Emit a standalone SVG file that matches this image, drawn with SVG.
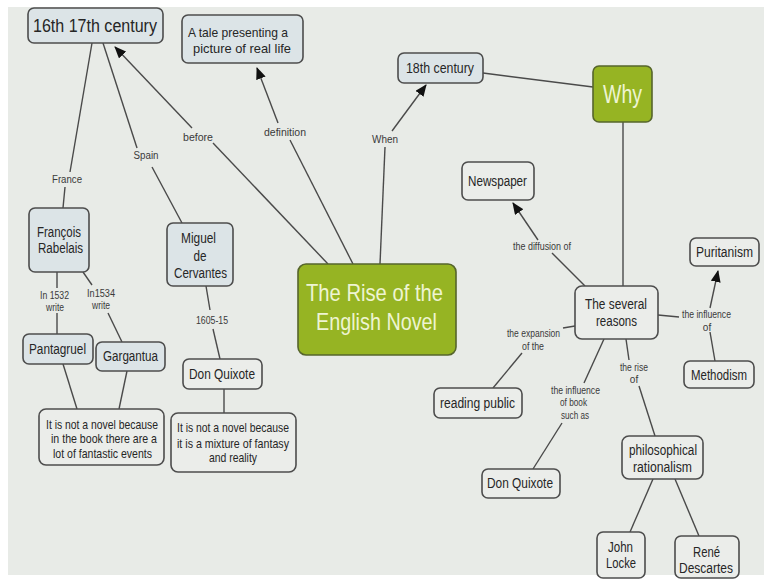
<svg xmlns="http://www.w3.org/2000/svg" width="764" height="580" viewBox="0 0 764 580">
<style>
text{font-family:"Liberation Sans",Arial,sans-serif;fill:#262626;text-anchor:middle}
.b{fill:#dce4e7;stroke:#4d4d4d;stroke-width:1.6}
.w{fill:#ebedea;stroke:#4d4d4d;stroke-width:1.6}
.g{fill:#96b423;stroke:#56652c;stroke-width:1.6}
.gt{fill:#eef4d2}
.c line{stroke:#4a4a4a;stroke-width:1.4}
.l{font-size:10px;fill:#3a3a3a}
.t{font-size:14px}
.s{font-size:13px}
</style>
<defs>
<marker id="ah" markerUnits="userSpaceOnUse" markerWidth="12" markerHeight="10" refX="11" refY="5" orient="auto">
<path d="M0,0 L12,5 L0,10 z" fill="#111"/>
</marker>
</defs>
<rect x="0" y="0" width="764" height="580" fill="#ffffff"/>
<rect x="8" y="7" width="756" height="568" fill="#e8ebe7"/>

<g id="connectors" class="c">
<line x1="92" y1="43" x2="70" y2="172"/>
<line x1="65" y1="187" x2="63" y2="208"/>
<line x1="103" y1="43" x2="137" y2="148"/>
<line x1="152" y1="167" x2="182" y2="223"/>
<line x1="328" y1="264" x2="213" y2="143"/>
<line x1="192" y1="128" x2="115" y2="47" marker-end="url(#ah)"/>
<line x1="353" y1="264" x2="290" y2="140"/>
<line x1="278" y1="123" x2="257" y2="68" marker-end="url(#ah)"/>
<line x1="380" y1="264" x2="385" y2="147"/>
<line x1="392" y1="131" x2="426" y2="85" marker-end="url(#ah)"/>
<line x1="483" y1="73" x2="593" y2="87"/>
<line x1="623" y1="122" x2="623" y2="286"/>
<line x1="585" y1="286" x2="552" y2="253"/>
<line x1="538" y1="240" x2="513" y2="203" marker-end="url(#ah)"/>
<line x1="658" y1="315" x2="679" y2="317"/>
<line x1="710" y1="308" x2="718" y2="271" marker-end="url(#ah)"/>
<line x1="710" y1="332" x2="715" y2="361"/>
<line x1="575" y1="326" x2="563" y2="328"/>
<line x1="522" y1="353" x2="493" y2="388"/>
<line x1="604" y1="339" x2="584" y2="383"/>
<line x1="562" y1="423" x2="533" y2="469"/>
<line x1="626" y1="339" x2="629" y2="360"/>
<line x1="639" y1="386" x2="655" y2="436"/>
<line x1="653" y1="479" x2="630" y2="532"/>
<line x1="675" y1="479" x2="699" y2="536"/>
<line x1="57" y1="272" x2="57" y2="288"/>
<line x1="57" y1="313" x2="57" y2="334"/>
<line x1="83" y1="272" x2="92" y2="285"/>
<line x1="108" y1="313" x2="122" y2="342"/>
<line x1="63" y1="364" x2="77" y2="409"/>
<line x1="127" y1="371" x2="119" y2="409"/>
<line x1="206" y1="286" x2="210" y2="310"/>
<line x1="213" y1="329" x2="220" y2="359"/>
<line x1="224" y1="389" x2="224" y2="413"/>
<text class="l" x="67" y="182.5" textLength="30" lengthAdjust="spacingAndGlyphs">France</text>
<text class="l" x="146" y="158.5" textLength="25" lengthAdjust="spacingAndGlyphs">Spain</text>
<text class="l" x="198" y="140.5" textLength="30" lengthAdjust="spacingAndGlyphs">before</text>
<text class="l" x="285" y="135.5" textLength="42" lengthAdjust="spacingAndGlyphs">definition</text>
<text class="l" x="385" y="142.5" textLength="26" lengthAdjust="spacingAndGlyphs">When</text>
<text class="l" x="54.5" y="298.5" textLength="29" lengthAdjust="spacingAndGlyphs">In 1532</text>
<text class="l" x="55" y="310.5" textLength="18" lengthAdjust="spacingAndGlyphs">write</text>
<text class="l" x="101" y="296.5" textLength="28" lengthAdjust="spacingAndGlyphs">In1534</text>
<text class="l" x="101" y="308.5" textLength="18" lengthAdjust="spacingAndGlyphs">write</text>
<text class="l" x="212" y="323.5" textLength="32" lengthAdjust="spacingAndGlyphs">1605-15</text>
<text class="l" x="542" y="249.5" textLength="58" lengthAdjust="spacingAndGlyphs">the diffusion of</text>
<text class="l" x="706.5" y="317.5" textLength="49" lengthAdjust="spacingAndGlyphs">the influence</text>
<text class="l" x="707" y="330.5">of</text>
<text class="l" x="533.5" y="336.5" textLength="53" lengthAdjust="spacingAndGlyphs">the expansion</text>
<text class="l" x="533" y="349.5" textLength="22" lengthAdjust="spacingAndGlyphs">of the</text>
<text class="l" x="575.5" y="393.5" textLength="49" lengthAdjust="spacingAndGlyphs">the influence</text>
<text class="l" x="573.5" y="405.5" textLength="27" lengthAdjust="spacingAndGlyphs">of book</text>
<text class="l" x="575" y="418.5" textLength="28" lengthAdjust="spacingAndGlyphs">such as</text>
<text class="l" x="634" y="370.5" textLength="28" lengthAdjust="spacingAndGlyphs">the rise</text>
<text class="l" x="634" y="382.5">of</text>
</g>

<g id="n-16th">
<rect class="b" x="28" y="8" width="135" height="35" rx="6"/>
<text x="95" y="32" font-size="18" textLength="124" lengthAdjust="spacingAndGlyphs">16th 17th century</text>
</g>
<g id="n-tale">
<rect class="b" x="182" y="15" width="121" height="48" rx="6"/>
<text class="s" x="238" y="36.5" textLength="100" lengthAdjust="spacingAndGlyphs">A tale presenting a</text>
<text class="s" x="242" y="52.5" textLength="98" lengthAdjust="spacingAndGlyphs">picture of  real life</text>
</g>
<g id="n-rabelais">
<rect class="b" x="29" y="208" width="60" height="64" rx="6"/>
<text class="t" x="59" y="237" textLength="44" lengthAdjust="spacingAndGlyphs">François</text>
<text class="t" x="60.5" y="253" textLength="45" lengthAdjust="spacingAndGlyphs">Rabelais</text>
</g>
<g id="n-cervantes">
<rect class="b" x="167" y="223" width="66" height="63" rx="6"/>
<text class="t" x="198.5" y="243" textLength="35" lengthAdjust="spacingAndGlyphs">Miguel</text>
<text class="t" x="200" y="261" textLength="13" lengthAdjust="spacingAndGlyphs">de</text>
<text class="t" x="200.5" y="278" textLength="53" lengthAdjust="spacingAndGlyphs">Cervantes</text>
</g>
<g id="n-pantagruel">
<rect class="b" x="23" y="334" width="70" height="30" rx="6"/>
<text class="t" x="57.5" y="354" textLength="57" lengthAdjust="spacingAndGlyphs">Pantagruel</text>
</g>
<g id="n-gargantua">
<rect class="b" x="96" y="342" width="69" height="29" rx="6"/>
<text class="t" x="130.5" y="361" textLength="55" lengthAdjust="spacingAndGlyphs">Gargantua</text>
</g>
<g id="n-donquixote1">
<rect class="w" x="183" y="359" width="79" height="30" rx="6"/>
<text class="t" x="222" y="379" textLength="66" lengthAdjust="spacingAndGlyphs">Don Quixote</text>
</g>
<g id="n-note1">
<rect class="w" x="39" y="409" width="125" height="56" rx="7"/>
<text class="s" x="102" y="428.5" textLength="112" lengthAdjust="spacingAndGlyphs">It is not a novel because</text>
<text class="s" x="104" y="443" textLength="106" lengthAdjust="spacingAndGlyphs">in the book there are a</text>
<text class="s" x="102.5" y="457.5" textLength="99" lengthAdjust="spacingAndGlyphs">lot of fantastic events</text>
</g>
<g id="n-note2">
<rect class="w" x="171" y="413" width="125" height="59" rx="7"/>
<text class="s" x="233" y="431.5" textLength="112" lengthAdjust="spacingAndGlyphs">It is not a novel because</text>
<text class="s" x="233" y="447.5" textLength="112" lengthAdjust="spacingAndGlyphs">it is a mixture of fantasy</text>
<text class="s" x="233" y="461.5" textLength="48" lengthAdjust="spacingAndGlyphs">and reality</text>
</g>
<g id="n-rise">
<rect class="g" x="298" y="264" width="158" height="91" rx="8"/>
<text class="gt" x="374.5" y="301" font-size="24" textLength="137" lengthAdjust="spacingAndGlyphs">The Rise of the</text>
<text class="gt" x="376.5" y="330" font-size="24" textLength="121" lengthAdjust="spacingAndGlyphs">English Novel</text>
</g>
<g id="n-18th">
<rect class="b" x="398" y="53" width="85" height="30" rx="6"/>
<text class="t" x="440" y="73" textLength="68" lengthAdjust="spacingAndGlyphs">18th century</text>
</g>
<g id="n-why">
<rect class="g" x="593" y="66" width="59" height="56" rx="6"/>
<text class="gt" x="622.5" y="103" font-size="26" textLength="39" lengthAdjust="spacingAndGlyphs">Why</text>
</g>
<g id="n-newspaper">
<rect class="w" x="462" y="162" width="72" height="38" rx="6"/>
<text class="t" x="497.5" y="186" textLength="59" lengthAdjust="spacingAndGlyphs">Newspaper</text>
</g>
<g id="n-puritanism">
<rect class="w" x="690" y="238" width="69" height="28" rx="6"/>
<text class="t" x="724.5" y="257" textLength="57" lengthAdjust="spacingAndGlyphs">Puritanism</text>
</g>
<g id="n-reasons">
<rect class="w" x="575" y="286" width="83" height="53" rx="7"/>
<text class="t" x="616" y="309" textLength="62" lengthAdjust="spacingAndGlyphs">The several</text>
<text class="t" x="616.5" y="326" textLength="41" lengthAdjust="spacingAndGlyphs">reasons</text>
</g>
<g id="n-methodism">
<rect class="w" x="684" y="361" width="70" height="27" rx="6"/>
<text class="t" x="719" y="380" textLength="56" lengthAdjust="spacingAndGlyphs">Methodism</text>
</g>
<g id="n-reading">
<rect class="w" x="434" y="388" width="88" height="30" rx="6"/>
<text class="t" x="477.5" y="408" textLength="75" lengthAdjust="spacingAndGlyphs">reading public</text>
</g>
<g id="n-donquixote2">
<rect class="w" x="482" y="469" width="78" height="29" rx="6"/>
<text class="t" x="520" y="488" textLength="66" lengthAdjust="spacingAndGlyphs">Don Quixote</text>
</g>
<g id="n-philosophical">
<rect class="w" x="622" y="436" width="81" height="43" rx="7"/>
<text class="t" x="663" y="455" textLength="68" lengthAdjust="spacingAndGlyphs">philosophical</text>
<text class="t" x="662.5" y="472" textLength="59" lengthAdjust="spacingAndGlyphs">rationalism</text>
</g>
<g id="n-locke">
<rect class="w" x="597" y="532" width="48" height="46" rx="6"/>
<text class="t" x="620.5" y="552" textLength="25" lengthAdjust="spacingAndGlyphs">John</text>
<text class="t" x="621" y="568" textLength="30" lengthAdjust="spacingAndGlyphs">Locke</text>
</g>
<g id="n-descartes">
<rect class="w" x="675" y="536" width="64" height="42" rx="6"/>
<text class="t" x="706.5" y="557" textLength="27" lengthAdjust="spacingAndGlyphs">René</text>
<text class="t" x="706" y="573" textLength="54" lengthAdjust="spacingAndGlyphs">Descartes</text>
</g>
</svg>
